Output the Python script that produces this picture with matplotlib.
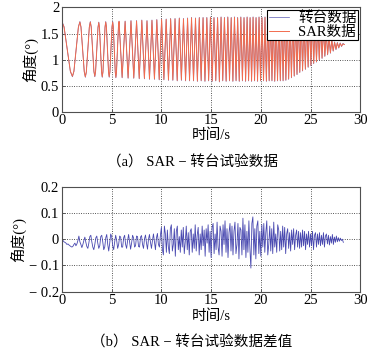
import matplotlib.pyplot as plt
import numpy as np

# points: the first seconds,
# afterwards only the peaks and troughs (seconds, degrees)
turn_t = [0.0, 0.21, 0.525, 0.84, 1.05, 1.2, 1.425, 1.65,
          1.8, 1.91, 2.075, 2.24, 2.35, 2.45, 2.6, 2.75,
          2.85, 2.94, 3.075, 3.21, 3.3, 3.38, 3.5, 3.62,
          3.7, 3.77, 3.875, 3.98, 4.05, 4.12, 4.225, 4.33,
          4.4, 4.47, 4.575, 4.68, 4.75, 4.82, 4.925, 5.03,
          5.1, 5.16, 5.26, 5.36, 5.42, 5.48, 5.58, 5.68,
          5.74, 6.05, 6.35, 6.65, 6.94, 7.22, 7.5, 7.77,
          8.03, 8.29, 8.55, 8.8, 9.05, 9.3, 9.54, 9.78, 10.02, 10.25,
          10.48, 10.71, 10.93, 11.15, 11.37, 11.59, 11.8, 12.01, 12.22, 12.43,
          12.63, 12.83, 13.03, 13.23, 13.43, 13.62, 13.81, 14.0, 14.19, 14.38,
          14.57, 14.75, 14.93, 15.11, 15.29, 15.47, 15.65, 15.83, 16.0, 16.17,
          16.34, 16.51, 16.68, 16.85, 17.02, 17.19, 17.35, 17.51, 17.67, 17.83,
          17.99, 18.15, 18.31, 18.47, 18.62, 18.77, 18.92, 19.07, 19.22, 19.37,
          19.52, 19.67, 19.82, 19.97, 20.12, 20.27, 20.42, 20.56, 20.7, 20.84,
          20.98, 21.12, 21.26, 21.4, 21.54, 21.68, 21.82, 21.96, 22.1, 22.24,
          22.38, 22.52, 22.66, 22.8, 22.94, 23.08, 23.22, 23.36, 23.5, 23.64,
          23.78, 23.92, 24.06, 24.2, 24.34, 24.48, 24.62, 24.76, 24.9, 25.04,
          25.18, 25.32, 25.46, 25.6, 25.74, 25.88, 26.02, 26.16, 26.3, 26.44,
          26.58, 26.72, 26.86, 27.0, 27.14, 27.28, 27.42, 27.56, 27.7, 27.84,
          27.98, 28.12, 28.26, 28.4]

sar_angle = [1.72, 1.62, 1.20, 0.78, 0.68, 0.78, 1.20, 1.62,
             1.72, 1.62, 1.20, 0.77, 0.67, 0.77, 1.20, 1.62,
             1.72, 1.62, 1.20, 0.78, 0.68, 0.78, 1.20, 1.61,
             1.71, 1.61, 1.19, 0.77, 0.67, 0.77, 1.20, 1.62,
             1.72, 1.62, 1.20, 0.77, 0.67, 0.77, 1.20, 1.62,
             1.72, 1.62, 1.19, 0.76, 0.66, 0.76, 1.20, 1.63,
             1.73, 0.66, 1.73, 0.65, 1.74, 0.65, 1.74, 0.64,
             1.75, 0.64, 1.74, 0.63, 1.75, 0.63, 1.76, 0.62, 1.77, 0.62,
             1.77, 0.61, 1.78, 0.61, 1.78, 0.60, 1.79, 0.61, 1.78, 0.60,
             1.79, 0.60, 1.80, 0.60, 1.79, 0.59, 1.80, 0.60, 1.80, 0.59,
             1.80, 0.60, 1.81, 0.59, 1.80, 0.60, 1.80, 0.58, 1.81, 0.60,
             1.80, 0.59, 1.81, 0.60, 1.80, 0.59, 1.81, 0.60, 1.80, 0.59,
             1.81, 0.60, 1.80, 0.59, 1.81, 0.60, 1.80, 0.59, 1.81, 0.60,
             1.80, 0.59, 1.81, 0.60, 1.80, 0.60, 1.81, 0.59, 1.80, 0.60,
             1.81, 0.60, 1.80, 0.59, 1.81, 0.60, 1.80, 0.60, 1.81, 0.60,
             1.80, 0.61, 1.81, 0.63, 1.80, 0.66, 1.80, 0.69, 1.80, 0.72,
             1.80, 0.76, 1.80, 0.79, 1.80, 0.82, 1.80, 0.86, 1.79, 0.89,
             1.79, 0.93, 1.77, 0.96, 1.74, 1.00, 1.68, 1.03, 1.60, 1.07,
             1.52, 1.10, 1.44, 1.13, 1.37, 1.17, 1.33, 1.20, 1.32, 1.23,
             1.31, 1.26, 1.30, 1.29]

turntable_angle = [1.73, 1.63, 1.20, 0.77, 0.67, 0.77, 1.20, 1.63,
                   1.73, 1.63, 1.20, 0.76, 0.66, 0.76, 1.20, 1.63,
                   1.73, 1.63, 1.20, 0.77, 0.67, 0.77, 1.20, 1.62,
                   1.72, 1.62, 1.19, 0.76, 0.66, 0.76, 1.20, 1.63,
                   1.73, 1.63, 1.20, 0.76, 0.66, 0.76, 1.20, 1.63,
                   1.73, 1.63, 1.19, 0.75, 0.65, 0.75, 1.20, 1.64,
                   1.74, 0.65, 1.74, 0.64, 1.75, 0.64, 1.75, 0.63,
                   1.76, 0.63, 1.75, 0.62, 1.76, 0.62, 1.77, 0.61, 1.78, 0.61,
                   1.78, 0.60, 1.79, 0.60, 1.79, 0.59, 1.80, 0.60, 1.79, 0.59,
                   1.80, 0.59, 1.81, 0.59, 1.80, 0.58, 1.81, 0.59, 1.81, 0.58,
                   1.81, 0.59, 1.82, 0.58, 1.81, 0.59, 1.81, 0.57, 1.82, 0.59,
                   1.81, 0.58, 1.82, 0.59, 1.81, 0.58, 1.82, 0.59, 1.81, 0.58,
                   1.82, 0.59, 1.81, 0.58, 1.82, 0.59, 1.81, 0.58, 1.82, 0.59,
                   1.81, 0.58, 1.82, 0.59, 1.81, 0.59, 1.82, 0.58, 1.81, 0.59,
                   1.82, 0.59, 1.81, 0.58, 1.82, 0.59, 1.81, 0.59, 1.82, 0.59,
                   1.81, 0.60, 1.82, 0.62, 1.81, 0.65, 1.81, 0.68, 1.81, 0.71,
                   1.81, 0.75, 1.81, 0.78, 1.81, 0.81, 1.81, 0.85, 1.80, 0.88,
                   1.80, 0.92, 1.78, 0.95, 1.75, 0.99, 1.69, 1.02, 1.61, 1.06,
                   1.53, 1.09, 1.45, 1.12, 1.38, 1.16, 1.34, 1.19, 1.33, 1.22,
                   1.32, 1.25, 1.31, 1.29]

# difference SAR - turntable, one reading every 0.1 s from 0 to 28.3 s
diff_t0, diff_dt = 0.0, 0.1
diff_angle = [
    0.0, -0.005, -0.01, -0.012, -0.015, -0.02, -0.018, -0.022, -0.025, -0.028,
    -0.03, -0.027, -0.02, -0.015, -0.025, -0.018, -0.005, 0.012, -0.01, -0.02,
    -0.032, -0.02, -0.005, 0.008, -0.012, -0.028, -0.035, -0.015, 0.01, 0.015,
    -0.01, -0.03, -0.04, -0.02, 0.005, 0.012, -0.015, -0.035, -0.025, 0.01,
    0.015, -0.01, -0.04, -0.03, 0.005, 0.018, -0.02, -0.045, -0.015, 0.02,
    0.01, -0.025, -0.04, -0.01, 0.015, -0.005, -0.035, -0.02, 0.012, 0.008,
    -0.03, -0.03, 0.005, 0.015, -0.02, -0.035, -0.005, 0.018, -0.01, -0.038,
    -0.015, 0.015, 0.005, -0.03, -0.025, 0.012, 0.01, -0.028, -0.03, 0.008,
    0.014, -0.02, -0.035, 0.002, 0.016, -0.015, -0.038, 0.0, 0.018, -0.012,
    -0.035, -0.005, 0.02, -0.01, -0.04, 0.005, 0.022, -0.02, -0.03, 0.015,
    0.045, -0.04, -0.06, 0.05, 0.02, -0.05, 0.035, -0.03, -0.055, 0.04,
    0.055, -0.045, -0.02, 0.04, -0.065, 0.03, 0.05, -0.04, 0.01, -0.05,
    0.035, -0.03, 0.045, -0.055, -0.01, 0.05, -0.04, 0.025, -0.06, 0.03,
    0.04, -0.05, 0.02, -0.035, 0.055, -0.045, 0.015, 0.045, -0.06, 0.02,
    -0.04, 0.05, -0.025, 0.035, -0.065, 0.04, -0.015, 0.055, -0.05, 0.03,
    -0.07, 0.045, 0.06, -0.055, 0.02, -0.04, 0.065, -0.03, -0.06, 0.05,
    0.03, -0.065, 0.055, -0.02, 0.07, -0.05, 0.04, -0.07, 0.025, 0.06,
    -0.045, 0.05, -0.06, 0.03, 0.065, -0.055, -0.02, 0.06, -0.075, 0.045,
    0.035, -0.06, 0.08, -0.04, 0.055, -0.07, 0.03, -0.05, 0.07, -0.035,
    -0.11, 0.06, 0.085, -0.06, 0.04, -0.075, 0.05, 0.07, -0.055, 0.03,
    -0.065, 0.055, -0.03, 0.06, -0.05, 0.025, 0.07, -0.06, -0.02, 0.05,
    -0.045, 0.04, -0.055, 0.065, -0.03, 0.02, -0.05, 0.055, 0.035, -0.045,
    0.03, -0.04, 0.05, -0.03, 0.045, -0.055, 0.02, 0.04, -0.035, 0.025,
    -0.045, 0.035, -0.02, 0.04, -0.04, 0.015, 0.035, -0.03, 0.03, -0.035,
    0.025, -0.03, 0.035, -0.025, 0.03, -0.04, 0.02, -0.02, 0.03, -0.03,
    0.02, -0.025, 0.03, -0.04, 0.015, 0.025, -0.03, 0.02, -0.02, 0.025,
    -0.025, 0.015, -0.02, 0.025, -0.03, 0.012, 0.02, -0.018, 0.015, -0.022,
    0.01, -0.015, 0.018, -0.02, 0.008, -0.012, 0.012, -0.01, 0.006, -0.008,
    0.004, -0.005, 0.0, -0.012]
diff_time = diff_t0 + diff_dt * np.arange(len(diff_angle))

x_ticks = [0, 5, 10, 15, 20, 25, 30]
ya_ticks = [0, 0.5, 1, 1.5, 2]
ya_labels = ['0', '0.5', '1', '1.5', '2']
yb_ticks = [-0.2, -0.1, 0, 0.1, 0.2]
yb_labels = ['\u2212 0.2', '\u2212 0.1', '0', '0.1', '0.2']

plt.rcParams['font.family'] = ['Liberation Serif', 'Noto Sans CJK SC']
plt.rcParams['font.size'] = 10
plt.rcParams['axes.unicode_minus'] = True

blue = '#5a5ab4'
red = '#f26c4e'
fig = plt.figure(figsize=(3.78, 3.54), dpi=100)
ax1 = fig.add_axes([0.164, 0.6845, 0.789, 0.2944])
ax2 = fig.add_axes([0.164, 0.176, 0.789, 0.2966])


def style(ax, yticks, ylabels, ylim):
    ax.set_xlim(0, 30)
    ax.set_ylim(ylim)
    ax.set_xticks(x_ticks)
    ax.set_yticks(yticks)
    ax.set_yticklabels(ylabels)
    ax.tick_params(direction='in', length=2, width=0.6, pad=2,
                   color='#404040', labelsize=10.5)
    ax.grid(True, color='#202020', linestyle=(0, (1, 1.8)), linewidth=0.6)
    for s in ax.spines.values():
        s.set_color('#505050')
        s.set_linewidth(0.8)
    ax.set_xlabel('时间/s', fontsize=10.5, labelpad=1)
    ax.set_ylabel('角度(°)', fontsize=10.5, labelpad=2)


ax1.plot(turn_t, turntable_angle, color=blue, linewidth=0.5, label='转台数据')
ax1.plot(turn_t, sar_angle, color=red, linewidth=0.7, label='SAR数据')
style(ax1, ya_ticks, ya_labels, (0, 2))
leg = ax1.legend(loc='upper right', fontsize=10.5, frameon=True, fancybox=False,
                 framealpha=1, edgecolor='black', borderpad=0.1,
                 handlelength=1.4, handletextpad=0.6, labelspacing=0.05,
                 borderaxespad=0.15)
leg.get_frame().set_linewidth(0.8)

ax2.plot(diff_time, diff_angle, color='#4848b0', linewidth=0.6)
style(ax2, yb_ticks, yb_labels, (-0.2, 0.2))

fig.text(0.508, 0.54, '（a） SAR \u2212 转台试验数据', ha='center', va='center',
         fontsize=10.5)
fig.text(0.508, 0.032, '（b） SAR \u2212 转台试验数据差值', ha='center',
         va='center', fontsize=10.5)

fig.savefig('out.png', dpi=100)
